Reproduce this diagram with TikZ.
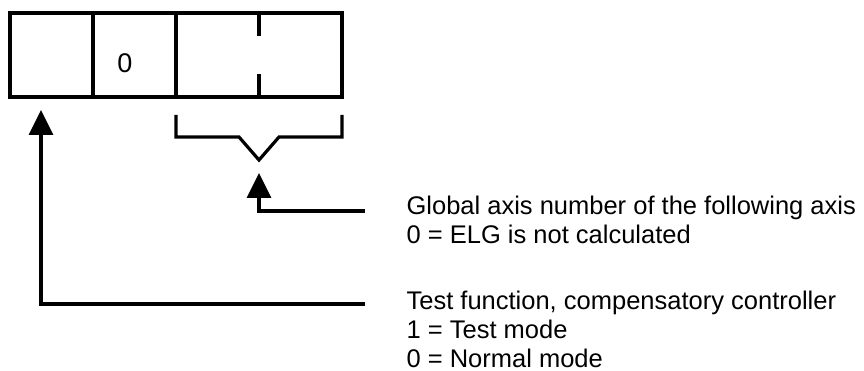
\documentclass[tikz,border=0pt]{standalone}
\usepackage{fontspec}
\setmainfont{Liberation Sans}
\usetikzlibrary{positioning,arrows.meta}

\begin{document}
\begin{tikzpicture}[
    x=1pt, y=-1pt,
    >={Triangle[length=25pt,width=24pt]},
    line width=3.2pt,
    font=\fontsize{25.5}{29}\selectfont,
    cell/.style={draw, minimum width=83pt, minimum height=84pt, inner sep=0pt, outer sep=0pt},
    lbl/.style={align=left, inner sep=0pt, anchor=north west},
  ]
    \useasboundingbox (0,0) rectangle (864,371);

    \node[cell] (c1) at (51.5,55) {};
    \node[cell, right=0pt of c1] (c2) {};
    \node[cell, minimum width=166pt, right=0pt of c2] (c3) {};
    \node[font=\fontsize{27}{30}\selectfont] (zero) at ([xshift=-9.5pt, yshift=-8pt]c2.center) {0};
    % split mark in the last field
    \draw (c3.north) -- ++(0,23) (c3.south) -- ++(0,-23);

    % brace under the last field
    \coordinate (bracetip) at (259,160);
    \draw (176,115) -- (176,137) -- (239,137) -- (bracetip) -- (279,137) -- (342,137) -- (342,115);

    \coordinate (axisin) at (365,211);
    \coordinate (testin) at (365,304);
    \coordinate (axisend) at (259,173);
    \coordinate (testend) at (41,110);

    \node[lbl] (axis) at ([xshift=40pt, yshift=17pt]axisin)
      {Global axis number of the following axis\\0 = ELG is not calculated};
    \node[lbl] (test) at ([xshift=40pt, yshift=15pt]testin)
      {Test function, compensatory controller\\1 = Test mode\\0 = Normal mode};

    \draw[->] (axisin) -| (axisend);
    \draw[->] (testin) -| (testend);
\end{tikzpicture}
\end{document}
